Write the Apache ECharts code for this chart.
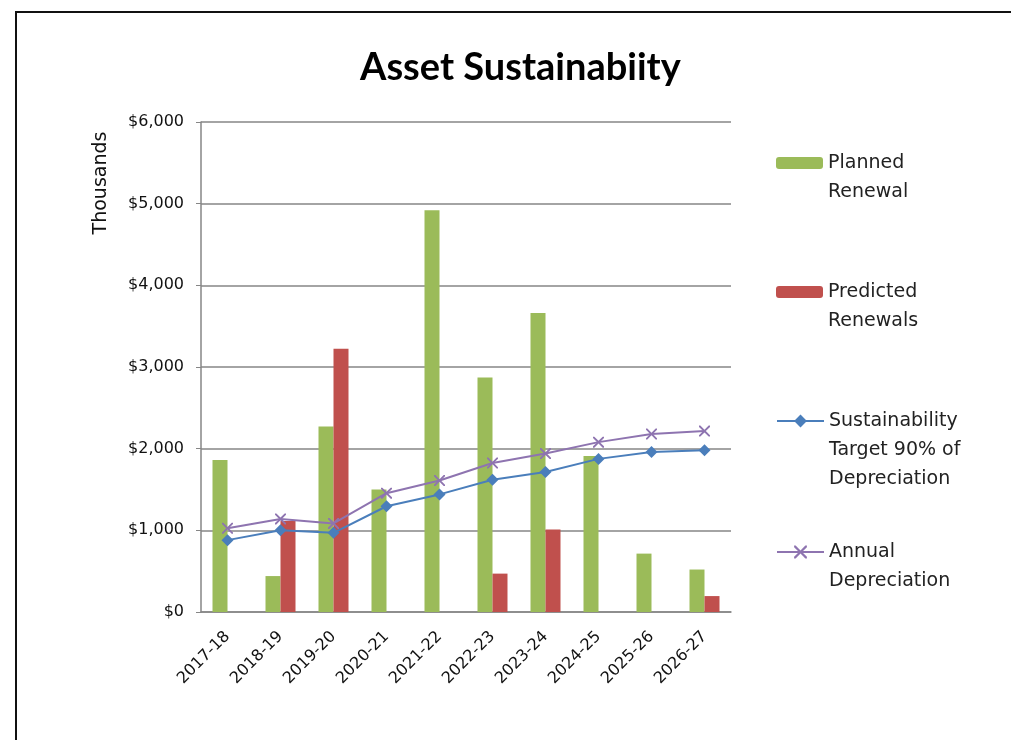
<!DOCTYPE html>
<html>
<head>
<meta charset="utf-8">
<title>Asset Sustainabiity</title>
<script src="https://cdn.jsdelivr.net/npm/echarts@6/dist/echarts.min.js"></script>
<style>
	html, body {
		margin: 0;
		padding: 0;
		background: #fff;
		overflow: hidden;
	}
	.frame {
		position: absolute;
		left: 15px;
		top: 11px;
		width: 1100px;
		height: 800px;
		border: 2px solid #111;
		box-shadow: 1px 1px 1px #999;
	}
	.chart {
		position: absolute;
		left: 0;
		top: 0;
		width: 1011px;
		height: 740px;
	}
</style>
</head>
<body>
<div class="frame"></div>
<div id="chart" class="chart"></div>
<script>
// categories (financial years)
const years = ["2017-18", "2018-19", "2019-20", "2020-21", "2021-22", "2022-23", "2023-24", "2024-25", "2025-26", "2026-27"];
// values in $ thousands
const plannedRenewal = [1860, 440, 2270, 1500, 4920, 2870, 3660, 1910, 715, 520];
const predictedRenewals = [null, 1115, 3225, null, null, 470, 1010, null, null, 195];
const sustainTarget = [880, 1000, 970, 1295, 1440, 1620, 1715, 1875, 1960, 1980];
const annualDepreciation = [1025, 1140, 1085, 1455, 1610, 1825, 1940, 2080, 2180, 2215];
// y axis ticks
const yMax = 6000;
const yStep = 1000;

const names = {
	planned: "Planned Renewal",
	predicted: "Predicted Renewals",
	target: "Sustainability Target 90% of Depreciation",
	annual: "Annual Depreciation",
};
// how each legend entry is wrapped
const legendLines = {
	[names.planned]: ["Planned", "Renewal"],
	[names.predicted]: ["Predicted", "Renewals"],
	[names.target]: ["Sustainability", "Target 90% of", "Depreciation"],
	[names.annual]: ["Annual", "Depreciation"],
};

const FONT = "DejaVu Sans";
const LH = 29;
const crossPath = "path://M0,0 L1.2,0 L5,3.8 L8.8,0 L10,0 L10,1.2 L6.2,5 L10,8.8 L10,10 L8.8,10 L5,6.2 L1.2,10 L0,10 L0,8.8 L3.8,5 L0,1.2 Z";

// one legend block per series so each can be placed like the original.
// blank lines are put in front so the icon sits level with the first line
function legendBlock(name, centerY, iconH) {
	const n = legendLines[name].length;
	const h = (2 * n - 1) * LH;
	return {
		data: [name],
		orient: "vertical",
		left: 776,
		top: centerY - h / 2,
		padding: 0,
		itemWidth: 47,
		itemHeight: iconH,
		itemGap: 0,
		selectedMode: false,
		formatter: (nm) => {
			const lines = legendLines[nm];
			const blanks = new Array(lines.length - 1).fill(" ");
			return blanks.concat(lines).join("\n");
		},
		textStyle: {
			fontFamily: FONT,
			fontSize: 19,
			color: "#222",
			lineHeight: LH,
		},
	};
}

const chart = echarts.init(document.getElementById("chart"), null, { renderer: "canvas" });

const option = {
	backgroundColor: "transparent",
	animation: false,
	title: {
		text: "Asset Sustainabiity",
		left: 355,
		top: 44,
		textStyle: {
			fontFamily: "Lato",
			fontWeight: "bold",
			fontSize: 38,
			color: "#000",
		},
	},
	legend: [
		legendBlock(names.planned, 163, 12),
		legendBlock(names.predicted, 292, 12),
		legendBlock(names.target, 421, 16),
		legendBlock(names.annual, 552, 16),
	],
	graphic: [
		{
			type: "text",
			x: 101,
			y: 183,
			rotation: Math.PI / 2,
			style: {
				text: "Thousands",
				fontFamily: FONT,
				fontSize: 19,
				fill: "#111",
				align: "center",
				verticalAlign: "middle",
			},
		},
	],
	grid: {
		left: 201,
		top: 122,
		width: 530,
		height: 490,
	},
	xAxis: {
		type: "category",
		data: years,
		axisLine: { lineStyle: { color: "#868686", width: 1.5 } },
		axisTick: { show: false },
		axisLabel: {
			rotate: 45,
			margin: 22,
			fontFamily: FONT,
			fontSize: 16,
			color: "#111",
		},
	},
	yAxis: {
		type: "value",
		min: 0,
		max: yMax,
		interval: yStep,
		axisLine: { show: true, lineStyle: { color: "#868686", width: 1.5 } },
		axisTick: { show: true, length: 5, lineStyle: { color: "#868686" } },
		splitLine: { lineStyle: { color: "#868686", width: 1.5 } },
		axisLabel: {
			margin: 17,
			fontFamily: FONT,
			fontSize: 16,
			color: "#111",
			formatter: (v) => "$" + v.toLocaleString("en-US"),
		},
	},
	series: [
		{
			name: names.planned,
			type: "bar",
			data: plannedRenewal,
			barWidth: 15,
			barGap: "0%",
			itemStyle: { color: "#9BBB59" },
		},
		{
			name: names.predicted,
			type: "bar",
			data: predictedRenewals,
			barWidth: 15,
			barGap: "0%",
			itemStyle: { color: "#C0504D" },
		},
		{
			name: names.target,
			type: "line",
			data: sustainTarget,
			symbol: "diamond",
			symbolSize: 12,
			lineStyle: { color: "#4A7EBB", width: 2 },
			itemStyle: { color: "#4A7EBB" },
			z: 4,
		},
		{
			name: names.annual,
			type: "line",
			data: annualDepreciation,
			symbol: crossPath,
			symbolSize: 11,
			lineStyle: { color: "#8E74B0", width: 2 },
			itemStyle: { color: "#8E74B0" },
			z: 3,
		},
	],
};

chart.setOption(option);
</script>
</body>
</html>
